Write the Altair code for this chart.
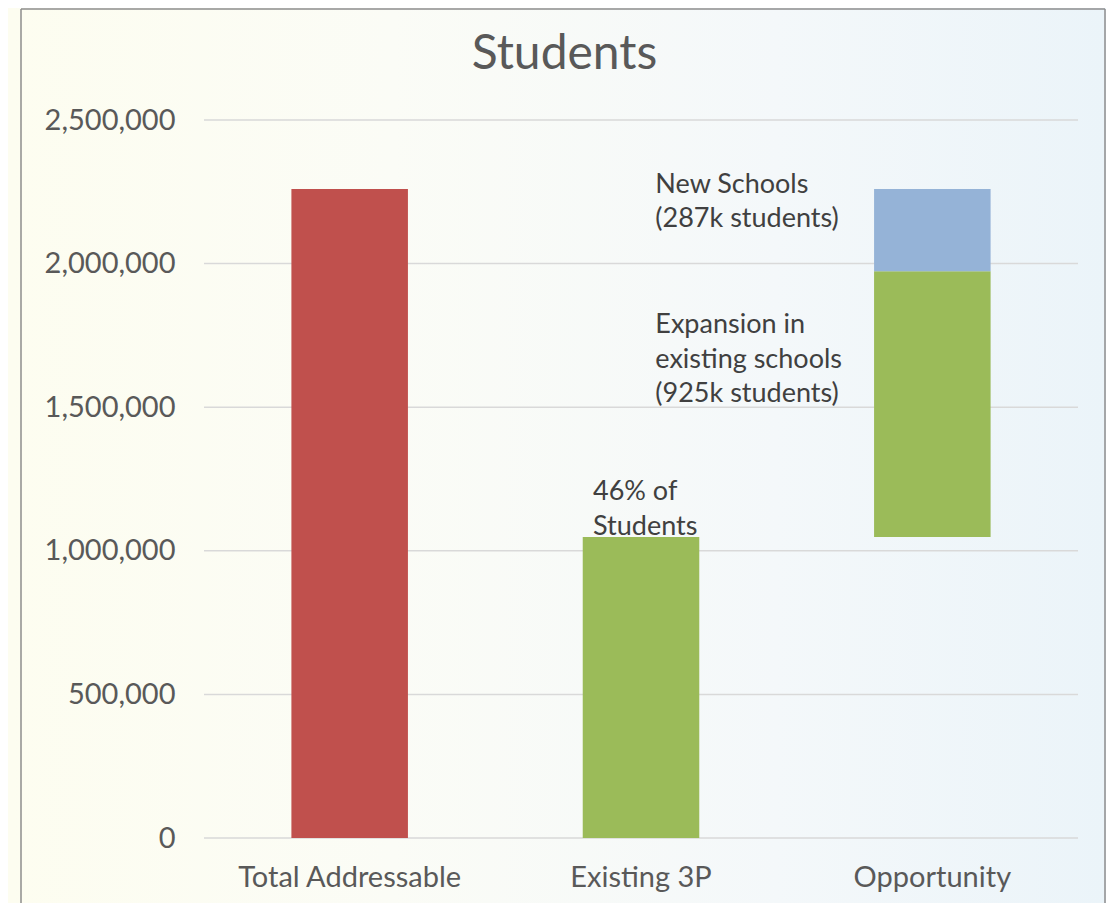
import altair as alt
import pandas as pd

# --- data ---
categories = ["Total Addressable", "Existing 3P", "Opportunity"]
seg_category = ["Total Addressable", "Existing 3P", "Opportunity", "Opportunity"]
seg_start = [0, 0, 1048000, 1973000]
seg_end = [2260000, 1048000, 1973000, 2260000]
seg_name = ["Total", "Existing", "Expansion", "New Schools"]
seg_color = ["#c0504d", "#9bbb59", "#9bbb59", "#95b3d7"]

ann_text = [
    ["New Schools", "(287k students)"],
    ["Expansion in", "existing schools", "(925k students)"],
    ["46% of", "Students"],
]
ann_category = ["Opportunity", "Opportunity", "Existing 3P"]
ann_anchor = [2260000, 1973000, 1048000]
ann_dx = [-277, -277, -48]
ann_dy = [4, 62, -37]

y_ticks = [0, 500000, 1000000, 1500000, 2000000, 2500000]
title_text = "Students"

FONT = "Lato"
W, H = 874, 718

bars_df = pd.DataFrame({
    "category": seg_category,
    "start": seg_start,
    "end": seg_end,
    "segment": seg_name,
    "color": seg_color,
})

x_scale = alt.Scale(domain=categories, paddingInner=0.6, paddingOuter=0.3)
y_scale = alt.Scale(domain=[0, 2500000], nice=False, zero=True)

x_axis = alt.Axis(title=None, labelAngle=0, domain=False, ticks=False,
                  labelFontSize=29, labelFont=FONT, labelColor="#595959",
                  labelPadding=25, labelLimit=500, grid=False, zindex=1)
y_axis = alt.Axis(title=None, values=y_ticks, format=",d", domain=False,
                  ticks=False, labelFontSize=29, labelFont=FONT,
                  labelColor="#595959", labelPadding=29, labelLimit=300,
                  grid=False, zindex=1)

one = pd.DataFrame({"a": [0]})

bg = alt.Chart(one).mark_rect(
    fill=alt.Gradient(
        gradient="linear",
        stops=[
            alt.GradientStop(color="#fdfdf0", offset=0),
            alt.GradientStop(color="#fbfcf6", offset=0.35),
            alt.GradientStop(color="#f4f8fa", offset=0.7),
            alt.GradientStop(color="#ebf4f9", offset=1),
        ],
        x1=0, x2=1, y1=0, y2=0,
    ),
    stroke=None,
).encode(x=alt.value(-196), x2=alt.value(W + 28), y=alt.value(-112), y2=alt.value(H + 65))

frame_left = alt.Chart(one).mark_rule(color="#8c8c8c", strokeWidth=1.5).encode(
    x=alt.value(21 - 204), y=alt.value(-111), y2=alt.value(H + 80))
frame_top = alt.Chart(one).mark_rule(color="#8c8c8c", strokeWidth=1.5).encode(
    x=alt.value(21 - 204), x2=alt.value(1105 - 204), y=alt.value(-111))
frame_right = alt.Chart(one).mark_rule(color="#8c8c8c", strokeWidth=1.5).encode(
    x=alt.value(1105 - 204), y=alt.value(-111), y2=alt.value(H + 80))

grid = alt.Chart(pd.DataFrame({"v": y_ticks})).mark_rule(
    color="#d9d9d9", strokeWidth=1.5
).encode(
    y=alt.Y("v:Q", scale=y_scale, axis=y_axis),
    x=alt.value(0), x2=alt.value(W),
)

bars = alt.Chart(bars_df).mark_bar().encode(
    x=alt.X("category:N", scale=x_scale, sort=categories, axis=x_axis),
    y=alt.Y("start:Q", scale=y_scale, axis=y_axis),
    y2="end:Q",
    color=alt.Color("color:N", scale=None, legend=None),
)

ann_layers = []
for t, c, a, dx, dy in zip(ann_text, ann_category, ann_anchor, ann_dx, ann_dy):
    df = pd.DataFrame({"category": [c], "value": [a], "label": [t]})
    ann_layers.append(
        alt.Chart(df).mark_text(
            align="left", baseline="alphabetic", dx=dx, dy=dy,
            fontSize=27, font=FONT, color="#404040", lineHeight=34.5,
        ).encode(
            x=alt.X("category:N", scale=x_scale, sort=categories, axis=x_axis),
            y=alt.Y("value:Q", scale=y_scale, axis=y_axis),
            text="label",
        )
    )

title = alt.Chart(one).mark_text(
    text=title_text, fontSize=48, font=FONT, color="#595959",
    align="center", baseline="alphabetic",
).encode(x=alt.value(564.5 - 204), y=alt.value(69 - 120))

chart = alt.layer(bg, frame_left, frame_top, frame_right, grid, bars, *ann_layers, title).properties(
    width=W, height=H,
    padding={"left": 196, "top": 112, "right": 28, "bottom": 65},
    autosize=alt.AutoSizeParams(type="none"),
).configure_view(stroke=None).configure(background="white")

chart.save("out.html", embed_options={"renderer": "svg", "actions": False})
